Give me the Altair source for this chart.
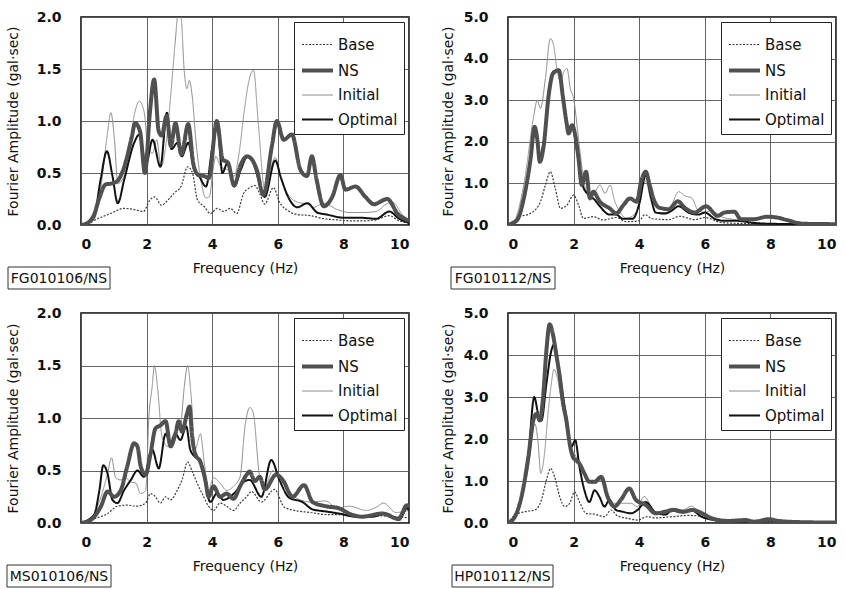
import altair as alt
import pandas as pd

FONT = "DejaVu Sans"
SERIES = ["Base", "NS", "Initial", "Optimal"]
COLORS = ["#3a3a3a", "#505050", "#8c8c8c", "#111111"]
WIDTHS = [1.2, 4.0, 1.0, 2.0]
DASHES = [[2, 1.5], [1, 0], [1, 0], [1, 0]]
DRAW_ORDER = ["Base", "Initial", "Optimal", "NS"]

# ---------------- FG010106/NS ----------------
FG010106_BASE = [(0, 0), (0.2, 0.01), (0.5, 0.06), (0.9, 0.11), (1.3, 0.16), (1.6, 0.15), (1.9, 0.13), (2.1, 0.24),
                 (2.25, 0.27), (2.45, 0.19), (2.65, 0.24), (2.85, 0.31), (3.05, 0.37), (3.25, 0.56), (3.4, 0.5),
                 (3.55, 0.24), (3.75, 0.18), (3.95, 0.11), (4.15, 0.16), (4.35, 0.13), (4.55, 0.16), (4.75, 0.11),
                 (4.95, 0.3), (5.15, 0.36), (5.3, 0.38), (5.45, 0.3), (5.6, 0.2), (5.87, 0.36), (6.05, 0.22),
                 (6.3, 0.14), (6.6, 0.1), (7.0, 0.09), (7.4, 0.06), (7.8, 0.05), (8.2, 0.04), (8.6, 0.04),
                 (9.0, 0.05), (9.4, 0.09), (9.7, 0.04), (10, 0.02)]
FG010106_NS = [(0, 0), (0.2, 0.02), (0.4, 0.1), (0.55, 0.25), (0.75, 0.39), (0.95, 0.4), (1.1, 0.42), (1.25, 0.5),
               (1.4, 0.65), (1.55, 0.85), (1.65, 0.98), (1.8, 0.9), (1.95, 0.5), (2.1, 1.08), (2.23, 1.40),
               (2.37, 0.9), (2.46, 0.86), (2.61, 1.05), (2.74, 0.76), (2.88, 0.98), (3.06, 0.68), (3.27, 0.97),
               (3.43, 0.58), (3.58, 0.48), (3.76, 0.47), (3.9, 0.45), (4.14, 1.0), (4.32, 0.63), (4.48, 0.6),
               (4.67, 0.38), (4.87, 0.58), (5.06, 0.66), (5.21, 0.63), (5.36, 0.53), (5.56, 0.29), (5.82, 0.76),
               (5.97, 1.0), (6.18, 0.82), (6.43, 0.87), (6.69, 0.53), (6.89, 0.47), (7.04, 0.66), (7.18, 0.44),
               (7.4, 0.18), (7.66, 0.27), (7.91, 0.48), (8.06, 0.34), (8.37, 0.37), (8.67, 0.27), (8.93, 0.2),
               (9.34, 0.25), (9.65, 0.11), (10, 0.04)]
FG010106_INITIAL = [(0, 0), (0.2, 0.01), (0.4, 0.05), (0.61, 0.37), (0.81, 0.89), (0.91, 1.08), (1.02, 0.82),
                    (1.12, 0.4), (1.27, 0.44), (1.42, 0.6), (1.62, 1.05), (1.78, 1.19), (1.93, 1.08), (2.03, 0.76),
                    (2.18, 0.69), (2.31, 0.82), (2.44, 0.56), (2.6, 0.8), (2.75, 1.3), (2.87, 1.75), (2.97, 2.05),
                    (3.05, 2.0), (3.15, 1.47), (3.23, 1.31), (3.3, 1.39), (3.4, 1.21), (3.5, 0.82), (3.65, 0.44),
                    (3.81, 0.26), (3.91, 0.27), (4.04, 0.56), (4.11, 0.66), (4.26, 0.56), (4.47, 0.53), (4.67, 0.47),
                    (4.82, 0.69), (4.97, 1.08), (5.13, 1.4), (5.26, 1.49), (5.4, 1.0), (5.6, 0.35), (5.75, 0.5),
                    (5.92, 0.65), (6.1, 0.45), (6.3, 0.3), (6.6, 0.22), (6.9, 0.2), (7.1, 0.17), (7.4, 0.21),
                    (7.8, 0.15), (8.2, 0.12), (8.6, 0.12), (9.0, 0.13), (9.3, 0.2), (9.5, 0.22), (9.8, 0.1), (10, 0.05)]
FG010106_OPTIMAL = [(0, 0), (0.2, 0.02), (0.4, 0.08), (0.6, 0.44), (0.79, 0.71), (0.96, 0.47), (1.12, 0.21),
                    (1.32, 0.44), (1.62, 0.79), (1.78, 0.87), (1.98, 0.58), (2.18, 0.82), (2.42, 0.56), (2.62, 1.08),
                    (2.76, 0.73), (2.94, 0.79), (3.07, 0.66), (3.27, 0.79), (3.45, 0.53), (3.6, 0.47), (3.81, 0.37),
                    (4.01, 0.76), (4.16, 0.95), (4.31, 0.5), (4.47, 0.6), (4.67, 0.37), (4.87, 0.53), (5.08, 0.66),
                    (5.25, 0.6), (5.4, 0.45), (5.6, 0.27), (5.92, 0.62), (6.1, 0.45), (6.3, 0.28), (6.6, 0.17),
                    (6.9, 0.21), (7.2, 0.12), (7.5, 0.1), (8.0, 0.07), (8.5, 0.07), (9.0, 0.06), (9.4, 0.13),
                    (9.7, 0.06), (10, 0.02)]

# ---------------- FG010112/NS ----------------
FG010112_BASE = [(0, 0), (0.1, 0.05), (0.3, 0.18), (0.69, 0.28), (0.99, 0.56), (1.14, 0.96), (1.29, 1.28),
                 (1.44, 0.88), (1.6, 0.4), (1.8, 0.48), (2.0, 0.72), (2.15, 0.48), (2.3, 0.16), (2.6, 0.2),
                 (2.9, 0.12), (3.3, 0.18), (3.6, 0.08), (4.0, 0.1), (4.17, 0.25), (4.4, 0.15), (4.9, 0.13),
                 (5.23, 0.21), (5.7, 0.13), (6.0, 0.18), (6.5, 0.06), (7.0, 0.04), (8.0, 0.03), (9.0, 0.02), (10, 0.01)]
FG010112_NS = [(0, 0), (0.15, 0.05), (0.28, 0.12), (0.48, 0.64), (0.69, 1.6), (0.81, 2.36), (0.89, 2.08),
               (0.97, 1.52), (1.09, 1.92), (1.24, 3.12), (1.37, 3.64), (1.55, 3.72), (1.68, 3.04), (1.78, 2.48),
               (1.85, 2.2), (1.95, 2.4), (2.05, 2.16), (2.15, 1.6), (2.25, 0.96), (2.38, 1.28), (2.5, 0.64),
               (2.6, 0.8), (2.8, 0.56), (3.1, 0.4), (3.3, 0.28), (3.52, 0.48), (3.72, 0.64), (3.92, 0.56),
               (4.07, 1.08), (4.2, 1.28), (4.32, 0.96), (4.45, 0.6), (4.6, 0.42), (4.9, 0.38), (5.18, 0.57),
               (5.38, 0.42), (5.69, 0.3), (6.04, 0.45), (6.39, 0.22), (6.6, 0.3), (6.9, 0.32), (7.1, 0.14),
               (7.5, 0.14), (7.9, 0.2), (8.2, 0.18), (8.5, 0.12), (9.0, 0.03), (10, 0.02)]
FG010112_INITIAL = [(0, 0), (0.18, 0.08), (0.48, 0.96), (0.79, 2.64), (0.89, 3.0), (0.99, 2.8), (1.14, 3.52),
                    (1.29, 4.48), (1.39, 4.32), (1.49, 3.76), (1.6, 3.44), (1.7, 3.68), (1.8, 3.76), (1.9, 3.28),
                    (2.0, 3.04), (2.15, 2.08), (2.3, 1.12), (2.5, 0.64), (2.66, 0.8), (2.8, 0.96), (2.96, 0.76),
                    (3.11, 0.96), (3.26, 0.56), (3.41, 0.32), (3.6, 0.16), (3.92, 0.32), (4.05, 0.8), (4.2, 1.05),
                    (4.35, 0.6), (4.5, 0.3), (4.8, 0.25), (5.0, 0.5), (5.2, 0.8), (5.4, 0.7), (5.6, 0.65),
                    (5.8, 0.35), (6.0, 0.3), (6.2, 0.35), (6.5, 0.2), (7.0, 0.12), (7.5, 0.05), (8.0, 0.03),
                    (9.0, 0.02), (10, 0.01)]
FG010112_OPTIMAL = [(0, 0), (0.15, 0.04), (0.3, 0.12), (0.5, 0.66), (0.7, 1.62), (0.81, 2.3), (0.9, 2.0),
                    (0.97, 1.6), (1.1, 2.05), (1.25, 3.2), (1.4, 3.7), (1.55, 3.72), (1.7, 3.0), (1.85, 2.3),
                    (1.95, 2.4), (2.1, 1.8), (2.3, 0.9), (2.5, 0.7), (2.65, 0.6), (2.8, 0.45), (3.1, 0.25),
                    (3.3, 0.25), (3.5, 0.15), (3.8, 0.15), (4.0, 0.5), (4.2, 1.2), (4.35, 0.7), (4.5, 0.3),
                    (4.8, 0.28), (5.0, 0.35), (5.2, 0.45), (5.5, 0.3), (5.8, 0.25), (6.0, 0.3), (6.3, 0.15),
                    (6.6, 0.1), (7.0, 0.1), (7.5, 0.05), (8.0, 0.03), (9.0, 0.02), (10, 0.01)]

# ---------------- MS010106/NS ----------------
MS010106_BASE = [(0, 0), (0.4, 0.04), (0.81, 0.09), (1.11, 0.16), (1.41, 0.17), (1.72, 0.16), (1.97, 0.19),
                 (2.12, 0.28), (2.27, 0.25), (2.42, 0.19), (2.58, 0.25), (2.73, 0.22), (2.93, 0.31), (3.08, 0.41),
                 (3.25, 0.58), (3.38, 0.5), (3.54, 0.38), (3.74, 0.25), (3.89, 0.16), (4.04, 0.12), (4.24, 0.19),
                 (4.44, 0.16), (4.65, 0.12), (4.85, 0.19), (5.05, 0.25), (5.2, 0.3), (5.5, 0.2), (5.9, 0.32),
                 (6.2, 0.15), (6.5, 0.12), (7.0, 0.1), (7.5, 0.08), (8.0, 0.08), (8.5, 0.06), (9.0, 0.07),
                 (9.5, 0.06), (10, 0.05)]
MS010106_NS = [(0, 0), (0.3, 0.03), (0.61, 0.16), (0.81, 0.3), (1.01, 0.25), (1.21, 0.31), (1.41, 0.54),
               (1.62, 0.76), (1.72, 0.73), (1.82, 0.54), (1.97, 0.46), (2.12, 0.66), (2.27, 0.9), (2.42, 0.93),
               (2.58, 0.97), (2.73, 0.73), (2.88, 0.85), (2.98, 0.97), (3.08, 0.87), (3.23, 1.04), (3.31, 1.11),
               (3.38, 0.85), (3.48, 0.66), (3.64, 0.58), (3.79, 0.41), (3.89, 0.25), (4.04, 0.35), (4.24, 0.25),
               (4.44, 0.28), (4.65, 0.23), (4.85, 0.35), (5.05, 0.46), (5.14, 0.49), (5.3, 0.4), (5.45, 0.44),
               (5.6, 0.32), (5.95, 0.46), (6.15, 0.41), (6.45, 0.25), (6.8, 0.36), (7.06, 0.2), (7.46, 0.16),
               (7.87, 0.14), (8.17, 0.09), (8.57, 0.06), (9.18, 0.09), (9.68, 0.04), (9.94, 0.17), (10, 0.15)]
MS010106_INITIAL = [(0, 0), (0.3, 0.04), (0.61, 0.25), (0.81, 0.47), (0.93, 0.62), (1.06, 0.43), (1.21, 0.41),
                    (1.36, 0.43), (1.52, 0.39), (1.67, 0.38), (1.82, 0.28), (1.97, 0.31), (2.07, 1.01), (2.17, 1.3),
                    (2.24, 1.5), (2.34, 1.27), (2.47, 0.82), (2.63, 0.73), (2.83, 0.85), (3.03, 0.92), (3.15, 1.3),
                    (3.25, 1.5), (3.36, 1.2), (3.48, 0.7), (3.64, 0.85), (3.76, 0.57), (3.89, 0.31), (4.04, 0.43),
                    (4.24, 0.38), (4.44, 0.31), (4.65, 0.35), (4.85, 0.44), (5.0, 0.92), (5.15, 1.1), (5.25, 1.05),
                    (5.45, 0.44), (5.6, 0.35), (5.85, 0.5), (6.0, 0.45), (6.5, 0.25), (7.0, 0.2), (7.46, 0.21),
                    (7.8, 0.14), (8.17, 0.16), (8.7, 0.12), (9.0, 0.15), (9.23, 0.19), (9.6, 0.1), (10, 0.12)]
MS010106_OPTIMAL = [(0, 0), (0.4, 0.08), (0.56, 0.31), (0.68, 0.55), (0.81, 0.47), (0.96, 0.22), (1.11, 0.19),
                    (1.31, 0.31), (1.52, 0.41), (1.72, 0.5), (1.92, 0.44), (2.17, 0.7), (2.37, 0.52), (2.58, 0.85),
                    (2.73, 0.76), (2.88, 0.85), (3.03, 0.79), (3.21, 0.92), (3.33, 0.7), (3.48, 0.63), (3.64, 0.6),
                    (3.79, 0.38), (3.94, 0.2), (4.14, 0.28), (4.34, 0.22), (4.55, 0.25), (4.75, 0.31), (4.95, 0.39),
                    (5.14, 0.41), (5.5, 0.25), (5.8, 0.6), (6.05, 0.41), (6.35, 0.24), (6.75, 0.2), (7.06, 0.13),
                    (7.46, 0.11), (7.87, 0.09), (8.37, 0.06), (8.88, 0.06), (9.3, 0.09), (9.7, 0.03), (9.94, 0.14),
                    (10, 0.12)]

# ---------------- HP010112/NS ----------------
HP010112_BASE = [(0, 0), (0.21, 0.19), (0.52, 0.27), (0.82, 0.31), (1.02, 0.55), (1.17, 1.02), (1.3, 1.3),
                 (1.42, 1.1), (1.58, 0.62), (1.73, 0.39), (1.88, 0.47), (2.03, 0.74), (2.18, 0.5), (2.38, 0.23),
                 (2.64, 0.21), (2.94, 0.15), (3.14, 0.31), (3.34, 0.17), (3.65, 0.11), (3.95, 0.07), (4.25, 0.15),
                 (4.5, 0.12), (5.0, 0.15), (5.5, 0.18), (6.0, 0.15), (6.5, 0.05), (7.0, 0.03), (8.0, 0.04),
                 (9.0, 0.01), (10, 0.01)]
HP010112_NS = [(0, 0), (0.21, 0.15), (0.41, 0.62), (0.62, 1.57), (0.77, 2.44), (0.87, 2.6), (0.97, 2.44),
               (1.07, 3.0), (1.17, 4.1), (1.27, 4.73), (1.37, 4.49), (1.47, 4.02), (1.58, 3.47), (1.68, 2.84),
               (1.78, 2.44), (1.88, 1.89), (1.98, 1.57), (2.08, 1.49), (2.18, 1.41), (2.33, 1.18), (2.48, 0.98),
               (2.64, 0.98), (2.84, 1.1), (3.04, 0.62), (3.24, 0.39), (3.44, 0.55), (3.7, 0.82), (3.9, 0.55),
               (4.2, 0.43), (4.5, 0.23), (4.8, 0.27), (5.06, 0.31), (5.36, 0.27), (5.62, 0.31), (5.92, 0.23),
               (6.22, 0.11), (6.73, 0.05), (7.23, 0.07), (7.53, 0.03), (7.94, 0.09), (8.24, 0.05), (8.95, 0.02),
               (10, 0.01)]
HP010112_INITIAL = [(0, 0), (0.21, 0.12), (0.41, 0.55), (0.62, 1.33), (0.82, 2.36), (0.92, 1.89), (1.0, 1.18),
                    (1.1, 1.57), (1.22, 2.6), (1.32, 3.31), (1.4, 3.66), (1.5, 3.47), (1.63, 2.91), (1.78, 2.36),
                    (1.93, 1.81), (2.08, 1.57), (2.23, 1.26), (2.43, 1.02), (2.64, 0.94), (2.84, 1.02), (3.04, 0.66),
                    (3.24, 0.47), (3.44, 0.47), (3.75, 0.47), (3.95, 0.39), (4.15, 0.63), (4.5, 0.25), (4.8, 0.3),
                    (5.0, 0.35), (5.3, 0.3), (5.6, 0.4), (5.9, 0.2), (6.2, 0.1), (6.5, 0.06), (7.0, 0.04),
                    (8.0, 0.05), (9.0, 0.02), (10, 0.01)]
HP010112_OPTIMAL = [(0, 0), (0.21, 0.14), (0.41, 0.6), (0.62, 1.6), (0.8, 3.0), (0.92, 2.6), (1.02, 2.44),
                    (1.17, 3.31), (1.32, 4.1), (1.42, 4.26), (1.53, 3.78), (1.68, 3.0), (1.78, 2.52), (1.93, 1.81),
                    (2.05, 1.97), (2.18, 1.33), (2.33, 0.78), (2.48, 0.5), (2.64, 0.78), (2.79, 0.62), (2.94, 0.39),
                    (3.09, 0.55), (3.29, 0.31), (3.49, 0.27), (3.75, 0.23), (3.95, 0.31), (4.2, 0.5), (4.5, 0.25),
                    (4.8, 0.2), (5.0, 0.3), (5.3, 0.25), (5.6, 0.3), (5.9, 0.15), (6.2, 0.08), (6.5, 0.05),
                    (7.0, 0.04), (8.0, 0.06), (9.0, 0.02), (10, 0.01)]

X_TICKS = [0, 2, 4, 6, 8, 10]
Y_TICKS_SMALL = [0, 0.5, 1.0, 1.5, 2.0]
Y_TICKS_LARGE = [0, 1, 2, 3, 4, 5]


def panel(name, curves, ymax, yticks, width, height, title_pad, box_x0, box_x1):
    rows = []
    for s in SERIES:
        for f, v in curves[s]:
            rows.append({"series": s, "f": f, "v": v})
    df = pd.DataFrame(rows)
    x = alt.X("f:Q", scale=alt.Scale(domain=[0, 10], nice=False),
              axis=alt.Axis(values=X_TICKS, format="d", title="Frequency (Hz)"))
    y = alt.Y("v:Q", scale=alt.Scale(domain=[0, ymax], nice=False),
              axis=alt.Axis(values=yticks, format=".1f", title="Fourier Amplitude (gal·sec)",
                            titlePadding=title_pad))
    color = alt.Color("series:N", scale=alt.Scale(domain=SERIES, range=COLORS), legend=alt.Legend(title=None))
    sw = alt.StrokeWidth("series:N", scale=alt.Scale(type="ordinal", domain=SERIES, range=WIDTHS),
                         legend=alt.Legend(title=None))
    sd = alt.StrokeDash("series:N", scale=alt.Scale(domain=SERIES, range=DASHES), legend=alt.Legend(title=None))
    layers = []
    for s in DRAW_ORDER:
        layers.append(
            alt.Chart(df).transform_filter(alt.datum.series == s)
            .mark_line(interpolate="monotone", clip=True)
            .encode(x=x, y=y, color=color, strokeWidth=sw, strokeDash=sd)
        )
    lab = pd.DataFrame({"label": [name]})
    box = alt.Chart(lab).mark_rect(fill="white", stroke="#333333", strokeWidth=1).encode(
        x=alt.value(box_x0), x2=alt.value(box_x1), y=alt.value(height + 42), y2=alt.value(height + 64))
    txt = alt.Chart(lab).mark_text(font=FONT, fontSize=14, align="center", baseline="middle", color="#111").encode(
        x=alt.value((box_x0 + box_x1) / 2), y=alt.value(height + 53.5), text="label:N")
    return alt.layer(*layers, box, txt).properties(width=width, height=height)


p1 = panel("FG010106/NS", {"Base": FG010106_BASE, "NS": FG010106_NS, "Initial": FG010106_INITIAL,
                           "Optimal": FG010106_OPTIMAL}, 2.0, Y_TICKS_SMALL, 328, 208, 16, -73, 29)
p2 = panel("FG010112/NS", {"Base": FG010112_BASE, "NS": FG010112_NS, "Initial": FG010112_INITIAL,
                           "Optimal": FG010112_OPTIMAL}, 5.0, Y_TICKS_LARGE, 328, 208, 8, -57, 47)
p3 = panel("MS010106/NS", {"Base": MS010106_BASE, "NS": MS010106_NS, "Initial": MS010106_INITIAL,
                           "Optimal": MS010106_OPTIMAL}, 2.0, Y_TICKS_SMALL, 328, 210, 16, -74, 30)
p4 = panel("HP010112/NS", {"Base": HP010112_BASE, "NS": HP010112_NS, "Initial": HP010112_INITIAL,
                           "Optimal": HP010112_OPTIMAL}, 5.0, Y_TICKS_LARGE, 328, 210, 8, -56, 45)

ind = dict(color="independent", strokeWidth="independent", strokeDash="independent")
row1 = alt.hconcat(p1, p2, spacing=30).resolve_scale(**ind).resolve_legend(**ind)
row2 = alt.hconcat(p3, p4, spacing=30).resolve_scale(**ind).resolve_legend(**ind)

chart = (
    alt.vconcat(row1, row2, spacing=14)
    .resolve_scale(**ind).resolve_legend(**ind)
    .properties(padding={"left": 5, "top": 9, "right": 0, "bottom": 0}, background="white")
    .configure_view(stroke="black", strokeWidth=1.5)
    .configure_axis(
        labelFont=FONT, labelFontSize=14, labelFontWeight="bold", labelColor="#111",
        titleFont=FONT, titleFontSize=14, titleFontWeight="normal", titleColor="#111",
        grid=True, gridColor="#555555", gridWidth=0.9, ticks=False, domain=False,
    )
    .configure_axisX(labelPadding=12, titlePadding=10)
    .configure_axisY(labelPadding=20)
    .configure_legend(
        orient="top-right", offset=5, fillColor="white", strokeColor="#222", padding=6,
        labelFont=FONT, labelFontSize=15, labelColor="#111", labelOffset=3,
        symbolType="stroke", symbolSize=961, rowPadding=0,
    )
)

chart.save("out.html", embed_options={"renderer": "svg", "actions": False})
